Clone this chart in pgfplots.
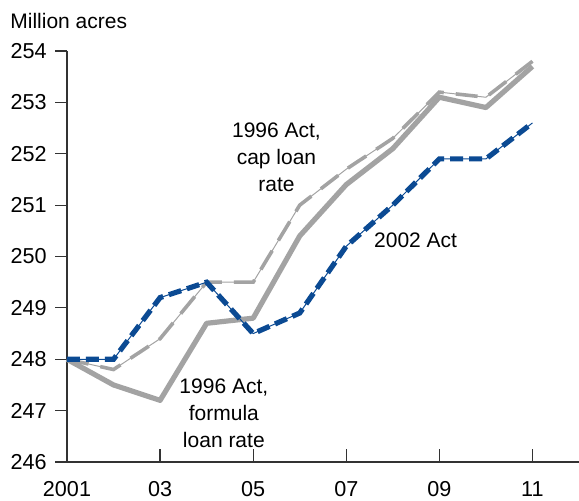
\documentclass[border=0pt]{standalone}
\usepackage{fontspec}
\setmainfont{Liberation Sans}
\usepackage{pgfplots}
\pgfplotsset{compat=1.18}
\definecolor{lgray}{HTML}{A3A3A3}
\definecolor{ersblue}{HTML}{0B4A93}
\begin{document}
\fontsize{10.5}{13.5}\selectfont
\begin{tikzpicture}
\begin{axis}[
  scale only axis, width=256pt, height=205.5pt,
  xmin=2001, xmax=2012, ymin=246, ymax=254,
  axis x line=bottom, axis y line=left, axis line style={-, line width=0.6pt, black!80},
  xtick={2001,2003,2005,2007,2009,2011},
  xticklabels={2001,03,05,07,09,11},
  ytick={246,247,...,254},
  tick align=outside, major tick length=6pt,
  tick style={line width=0.6pt, black!80},
  xtick style={yshift=6.5pt},
  /pgf/number format/assume math mode=true,
  /pgf/number format/1000 sep={},
  tick label style={font=\fontsize{10.8}{12}\selectfont},
  yticklabel style={xshift=-0.5pt},
  xticklabel style={yshift=0pt},
  clip=false,
]
\coordinate (bl) at (rel axis cs:0,0);
% 1996 Act, formula loan rate
\addplot[lgray, line width=2.6pt, line join=round] coordinates {
  (2001,248) (2002,247.5) (2003,247.2) (2004,248.7) (2005,248.8) (2006,250.4)
  (2007,251.4) (2008,252.1) (2009,253.1) (2010,252.9) (2011,253.7)};
% 1996 Act, cap loan rate
\addplot[lgray, line width=0.5pt] coordinates {
  (2001,248) (2002,247.8) (2003,248.4) (2004,249.5) (2005,249.5) (2006,251.0)
  (2007,251.7) (2008,252.3) (2009,253.2) (2010,253.1) (2011,253.8)};
\addplot[lgray, line width=1.8pt, dash pattern=on 11pt off 6pt] coordinates {
  (2001,248) (2002,247.8) (2003,248.4) (2004,249.5) (2005,249.5) (2006,251.0)
  (2007,251.7) (2008,252.3) (2009,253.2) (2010,253.1) (2011,253.8)};
% 2002 Act
\addplot[ersblue, line width=0.5pt] coordinates {
  (2001,248) (2002,248) (2003,249.2) (2004,249.5) (2005,248.5) (2006,248.9)
  (2007,250.2) (2008,251.0) (2009,251.9) (2010,251.9) (2011,252.6)};
\addplot[ersblue, line width=2.6pt, dash pattern=on 6.5pt off 3pt] coordinates {
  (2001,248) (2002,248) (2003,249.2) (2004,249.5) (2005,248.5) (2006,248.9)
  (2007,250.2) (2008,251.0) (2009,251.9) (2010,251.9) (2011,252.6)};
\node[align=center, inner sep=0pt] at (axis cs:2005.5,251.94) {1996 Act,\\cap loan\\rate};
\node[inner sep=0pt] at (axis cs:2008.49,250.32) {2002 Act};
\node[align=center, inner sep=0pt] at (axis cs:2004.37,246.95) {1996 Act,\\formula\\loan rate};
\node[anchor=west, inner sep=0pt, xshift=-28.5pt, yshift=15pt] at (rel axis cs:0,1) {Million acres};
\end{axis}
\pgfresetboundingbox
\path (bl) ++(-33.5pt,-19pt) rectangle ++(289.5pt,250pt);
\end{tikzpicture}
\end{document}
